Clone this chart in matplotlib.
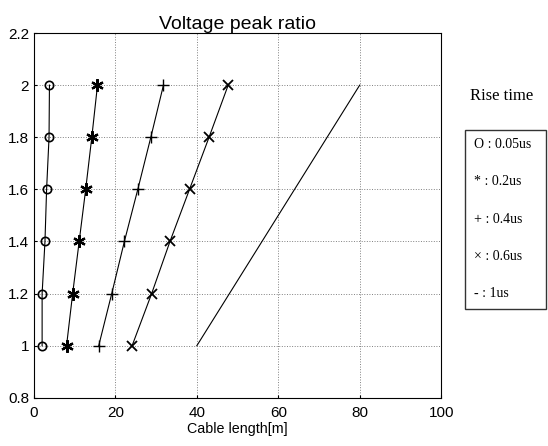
import matplotlib.pyplot as plt
from matplotlib.lines import Line2D

# ratio levels (y) and cable length (x) for each rise time
ratio = [1.0, 1.2, 1.4, 1.6, 1.8, 2.0]
len_005 = [2.0, 2.0, 2.7, 3.1, 3.7, 3.8]
len_02 = [8.0, 9.5, 11.1, 12.7, 14.2, 15.6]
len_04 = [15.9, 19.1, 22.2, 25.5, 28.7, 31.8]
len_06 = [24.1, 28.9, 33.4, 38.2, 43.0, 47.7]
len_1 = [40.0, 48.0, 56.0, 64.0, 72.0, 80.0]

legend_labels = ["O : 0.05us", "* : 0.2us", "+ : 0.4us", "\u00d7 : 0.6us", "- : 1us"]

plt.rcParams['font.family'] = ['Liberation Sans', 'DejaVu Sans']

fig = plt.figure(figsize=(5.48, 4.46), dpi=100)
ax = fig.add_axes([0.062, 0.108, 0.743, 0.818])

kw = dict(color='black', lw=0.8, mfc='none', mec='black')
ax.plot(len_005, ratio, marker='o', ms=6, mew=1.2, **kw)
ax.plot(len_02, ratio, marker=(6, 2, 0), ms=9, mew=1.6, **kw)
ax.plot(len_04, ratio, marker='+', ms=9, mew=1.0, **kw)
ax.plot(len_06, ratio, marker='x', ms=7, mew=1.3, **kw)
ax.plot(len_1, ratio, **kw)

ax.set_xlim(0, 100)
ax.set_ylim(0.8, 2.2)
ax.set_xticks([0, 20, 40, 60, 80, 100])
ax.set_yticks([0.8, 1.0, 1.2, 1.4, 1.6, 1.8, 2.0, 2.2])
ax.set_yticklabels(["0.8", "1", "1.2", "1.4", "1.6", "1.8", "2", "2.2"])
ax.tick_params(labelsize=11, direction='in', length=2)
ax.tick_params(axis='x', pad=6)
ax.grid(True, linestyle=':', color='gray', lw=0.7)
ax.set_title("Voltage peak ratio", fontsize=14, pad=3)
ax.set_xlabel("Cable length[m]", fontsize=10.3, labelpad=1)

handles = [Line2D([], [], lw=0) for _ in legend_labels]
leg = fig.legend(handles, legend_labels, loc='upper left', mode='expand',
                 bbox_to_anchor=(0.849, 0.309, 0.148, 0.4), handlelength=0,
                 handletextpad=0, labelspacing=1.75, fancybox=False,
                 edgecolor='black', borderpad=0.6, borderaxespad=0,
                 prop={'family': 'Liberation Serif', 'size': 10})
leg.get_frame().set_linewidth(1.0)
fig.text(0.858, 0.776, "Rise time", fontsize=12, family='Liberation Serif',
         va='baseline')

fig.savefig("out.png", dpi=100)
